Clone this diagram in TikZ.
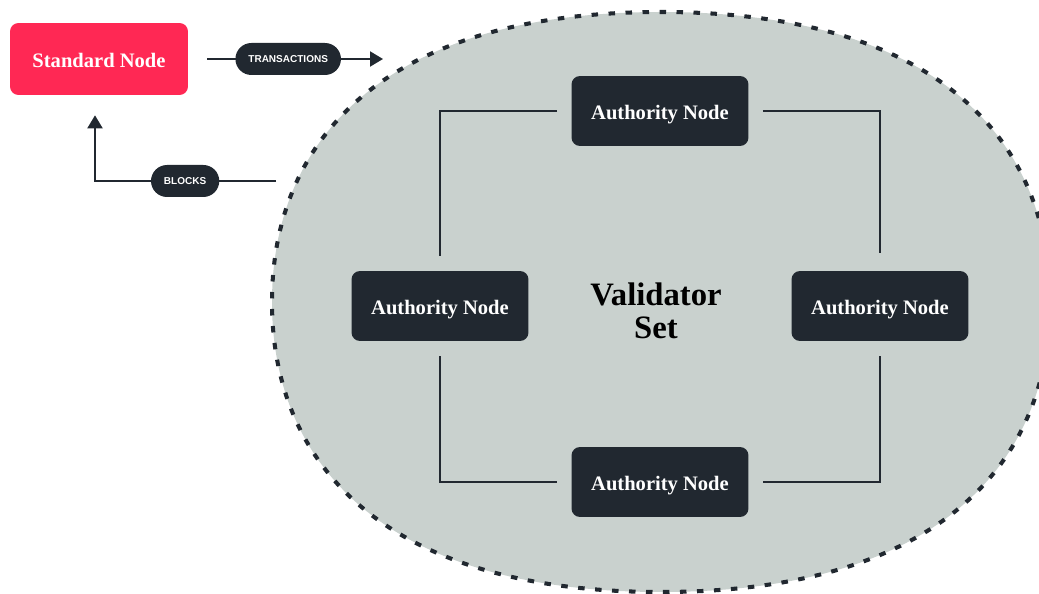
\documentclass[tikz,border=0pt]{standalone}
\usepackage{fontspec}
\setmainfont{Liberation Serif}
\setsansfont{Liberation Sans}
\usetikzlibrary{arrows.meta, calc}

\definecolor{nodered}{RGB}{255,40,84}
\definecolor{slate}{RGB}{33,40,48}
\definecolor{setgray}{RGB}{201,209,206}

\tikzset{
	authority/.style={fill=slate, text=white, rounded corners=0.17cm,
		minimum width=3.54cm, minimum height=1.4cm,
		text height=10pt, text depth=0pt,
		font=\bfseries\fontsize{11.7}{14}\selectfont},
	standard/.style={authority, fill=nodered, minimum width=3.56cm, minimum height=1.44cm},
	pill/.style={fill=slate, text=white, rounded corners=0.32cm,
		minimum height=0.64cm, inner xsep=0.26cm, inner ysep=0pt,
		font=\sffamily\bfseries\fontsize{5.7}{6}\selectfont},
	link/.style={draw=slate, line width=1.2pt},
}

\begin{document}
\begin{tikzpicture}[x=0.02cm, y=-0.02cm, >={Triangle[length=0.26cm, width=0.3cm]}]
	
	% 1. Canvas (one unit = one pixel, y grows downwards)
	\useasboundingbox (0,0) rectangle (1039,594);
	
	% 2. The validator set blob, runs a bit past the right border
	\draw[fill=setgray, draw=slate, line width=2.3pt, dash pattern=on 0.13cm off 0.21cm]
	(1050,302) .. controls (1050,142) and (941,12) .. (661,12)
	.. controls (381,12) and (272,142) .. (272,302)
	.. controls (272,462) and (381,592) .. (661,592)
	.. controls (941,592) and (1050,462) .. (1050,302) -- cycle;
	
	% 3. Nodes
	\node[standard] (std) at (99,59) {Standard Node};
	\node[authority] (north) at (660,111) {Authority Node};
	\node[authority] (west) at (440,306) {Authority Node};
	\node[authority] (east) at (880,306) {Authority Node};
	\node[authority] (south) at (660,482) {Authority Node};
	\node[font=\bfseries\fontsize{18.6}{19}\selectfont, align=center] (vset) at (656,311) {Validator\\Set};
	
	% 4. Ring between the authorities (lines stop short of the boxes)
	\draw[link, shorten <=0.28cm, shorten >=0.3cm] (north.west) -| (west.north);
	\draw[link, shorten <=0.28cm, shorten >=0.36cm] (north.east) -| (east.north);
	\draw[link, shorten <=0.3cm, shorten >=0.28cm] (west.south) |- (south.west);
	\draw[link, shorten <=0.3cm, shorten >=0.28cm] (east.south) |- (south.east);
	
	% 5. Traffic between the standard node and the set
	\coordinate (txin) at (383,59);
	\coordinate (blkout) at (276,181);
	\draw[link, ->, shorten <=0.38cm] (std.east) -- node[pill, pos=0.513] (tx) {TRANSACTIONS} (txin);
	\draw[link, ->, shorten >=0.4cm] (blkout) -| node[pill, pos=0.251] (blk) {BLOCKS} ([xshift=-0.08cm]std.south);
	
\end{tikzpicture}
\end{document}
